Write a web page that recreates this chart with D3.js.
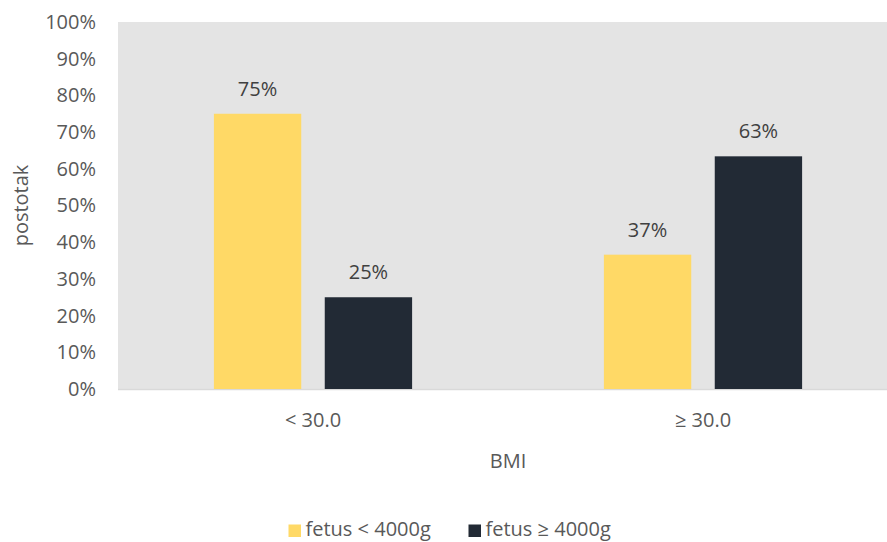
<!DOCTYPE html>
<html><head><meta charset="utf-8">
<script src="https://cdn.jsdelivr.net/npm/d3@7"></script>
<style>body{margin:0;background:#fff;}svg{display:block;font-family:"Open Sans",sans-serif;}</style>
</head><body><svg id="c" width="887" height="542"></svg>
<script>
const categories = ["< 30.0", "≥ 30.0"];
const seriesNames = ["fetus < 4000g", "fetus ≥ 4000g"];
const seriesSmall = [75, 36.6];
const seriesLarge = [25, 63.4];
const yTicks = [0,10,20,30,40,50,60,70,80,90,100];
const colors = ["#FFD966", "#222A35"];

const svg = d3.select("#c");
const m = {l:118, t:22, r:898, b:389};
const x = d3.scaleBand().domain(categories).range([m.l, m.r]);
const xs = d3.scaleBand().domain([0,1]).range([0, x.bandwidth()]).paddingInner(0.212).paddingOuter(0.865);
const y = d3.scaleLinear().domain([0,100]).range([m.b, m.t]);
const FS = "20px";

svg.append("rect").attr("x", m.l).attr("y", m.t).attr("width", m.r-m.l).attr("height", m.b-m.t).attr("fill", "#E4E4E4");

const yAxis = svg.append("g").attr("transform", `translate(${m.l},0)`)
  .call(d3.axisLeft(y).tickValues(yTicks).tickFormat(d=>d+"%").tickSize(0).tickPadding(22));
yAxis.select(".domain").remove();
yAxis.selectAll("text").attr("fill","#595959").style("font-size",FS).attr("font-family","Open Sans");

svg.append("line").attr("x1", m.l).attr("x2", m.r).attr("y1", m.b+0.5).attr("y2", m.b+0.5).attr("stroke","#D9D9D9").attr("stroke-width",1.5);

const series = [seriesSmall, seriesLarge];
series.forEach((vals, si) => {
  categories.forEach((c, ci) => {
    const bx = x(c) + xs(si);
    svg.append("rect").attr("x", bx).attr("y", y(vals[ci])).attr("width", xs.bandwidth())
      .attr("height", y(0)-y(vals[ci])).attr("fill", colors[si]);
    svg.append("text").attr("x", bx + xs.bandwidth()/2).attr("y", y(vals[ci]) - 18)
      .attr("text-anchor","middle").attr("fill","#404040").style("font-size",FS)
      .text(Math.round(vals[ci]) + "%");
  });
});

const xAxis = svg.append("g").attr("transform", `translate(0,${m.b})`)
  .call(d3.axisBottom(x).tickSize(0).tickPadding(0));
xAxis.select(".domain").remove();
xAxis.selectAll("text").attr("dy", null).attr("y", 38).attr("fill","#595959").style("font-size",FS).attr("font-family","Open Sans");

svg.append("text").attr("x", (m.l+m.r)/2).attr("y", 468).attr("text-anchor","middle").attr("fill","#595959").style("font-size",FS).text("BMI");
svg.append("text").attr("transform","translate(28,205.5) rotate(-90)").attr("text-anchor","middle").attr("fill","#595959").style("font-size",FS).text("postotak");

const lg = svg.append("g");
const legendItems = [{x:288.5}, {x:468.5}];
seriesNames.forEach((n, i) => {
  const lx = legendItems[i].x;
  lg.append("rect").attr("x", lx).attr("y", 524.5).attr("width", 12.5).attr("height", 12.5).attr("fill", colors[i]);
  lg.append("text").attr("x", lx + 17).attr("y", 536).attr("fill","#595959").style("font-size",FS).text(n);
});
</script></body></html>
